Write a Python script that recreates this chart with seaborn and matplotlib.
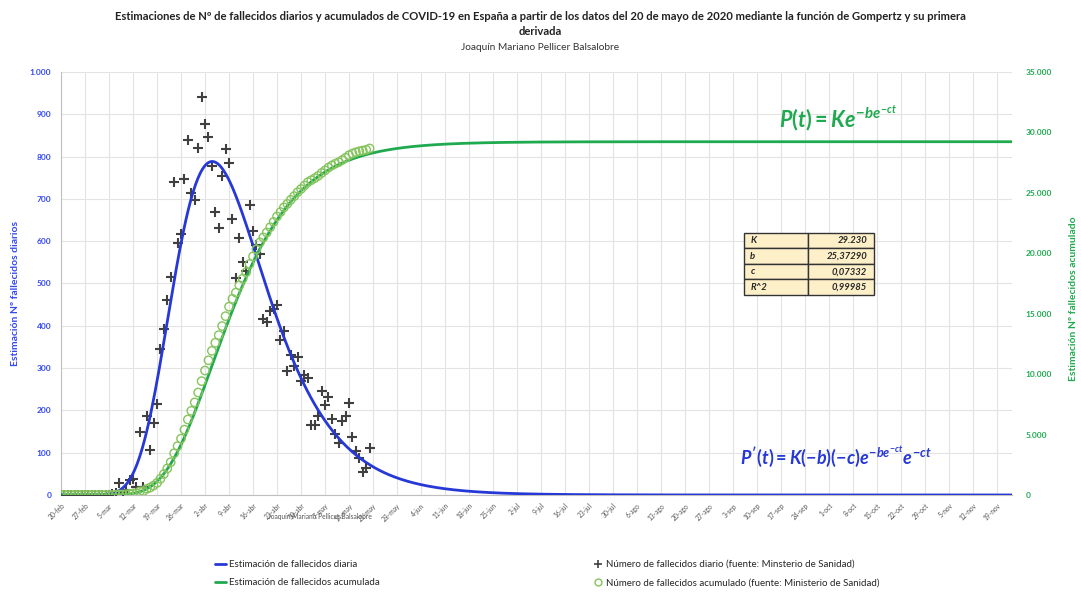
import numpy as np
import pandas as pd
import matplotlib
matplotlib.use("Agg")
import matplotlib.pyplot as plt
from matplotlib.lines import Line2D
import seaborn as sns

# Gompertz parameters (table in the chart)
K = 29230
b = 25.37290
c = 0.07332
R2 = 0.99985

# observed data, day 0 = 20-feb-2020
daily_deaths = [0, 0, 0, 0, 0, 0, 0, 0, 0, 0, 0, 0,
                1, 0, 1, 2, 5, 29, 7, 11, 36, 37, 18, 150, 20, 186, 107, 170, 215, 344,
                393, 462, 515, 739, 596, 616, 746, 840, 715, 697, 821, 942, 877, 847, 778,
                670, 630, 753, 819, 784, 652, 513, 607, 550, 530, 685, 623, 590, 569, 415,
                408, 434, 440, 450, 367, 387, 292, 332, 304, 326, 269, 284, 276, 166, 165,
                187, 245, 213, 231, 179, 145, 124, 176, 186, 217, 138, 103, 87, 55, 63, 110]
cum_deaths = [0, 0, 0, 0, 0, 0, 0, 0, 0, 0, 0, 0,
              1, 1, 2, 4, 9, 38, 45, 56, 92, 129, 147, 297, 317, 503, 610, 780, 995, 1339,
              1732, 2194, 2709, 3448, 4044, 4660, 5406, 6246, 6961, 7658, 8479, 9421, 10298,
              11145, 11923, 12593, 13223, 13976, 14795, 15579, 16231, 16744, 17351, 17901,
              18431, 19116, 19739, 20329, 20898, 21313, 21721, 22155, 22595, 23045, 23412,
              23799, 24091, 24423, 24727, 25053, 25322, 25606, 25882, 26048, 26213, 26400,
              26645, 26858, 27089, 27268, 27413, 27537, 27713, 27899, 28116, 28254, 28357,
              28444, 28499, 28562, 28672]
obs_days = list(range(len(daily_deaths)))

tick_labels = ["20-feb", "27-feb", "5-mar", "12-mar", "19-mar", "26-mar", "2-abr", "9-abr",
               "16-abr", "23-abr", "30-abr", "7-may", "14-may", "21-may", "28-may", "4-jun",
               "11-jun", "18-jun", "25-jun", "2-jul", "9-jul", "16-jul", "23-jul", "30-jul",
               "6-ago", "13-ago", "20-ago", "27-ago", "3-sep", "10-sep", "17-sep", "24-sep",
               "1-oct", "8-oct", "15-oct", "22-oct", "29-oct", "5-nov", "12-nov", "19-nov"]
tick_days = [7 * i for i in range(len(tick_labels))]
last_day = 277.3

BLUE = "#2638d6"
BLUE_TXT = "#3348f0"
GREEN = "#1faa4f"
GREEN_PT = "#86c45e"
GREY = "#404040"

sns.set_style("white")
plt.rcParams["font.family"] = ["Lato", "DejaVu Sans"]
plt.rcParams["mathtext.fontset"] = "custom"
plt.rcParams["mathtext.it"] = "Lato:italic:bold"
plt.rcParams["mathtext.rm"] = "Lato:bold"

# model curves from the fitted parameters
t = np.linspace(0, last_day, 800)
model = pd.DataFrame({"t": t})
model["P"] = K * np.exp(-b * np.exp(-c * t))
model["dP"] = K * b * c * np.exp(-c * t) * np.exp(-b * np.exp(-c * t))
obs = pd.DataFrame({"t": obs_days, "daily": daily_deaths, "cum": cum_deaths})

fig = plt.figure(figsize=(10.81, 5.92), dpi=100)
ax = fig.add_axes([0.0564, 0.1639, 0.8797, 0.7145])
ax2 = ax.twinx()

sns.scatterplot(data=obs, x="t", y="daily", ax=ax, marker="+", s=50, linewidth=1.5,
                color=GREY, zorder=3)
sns.lineplot(data=model, x="t", y="dP", ax=ax, color=BLUE, linewidth=2, zorder=4)
sns.scatterplot(data=obs, x="t", y="cum", ax=ax2, marker="o", s=36, facecolor="none",
                edgecolor=GREEN_PT, linewidth=1.0, zorder=3)
sns.lineplot(data=model, x="t", y="P", ax=ax2, color=GREEN, linewidth=2, zorder=2)

ax.set_xlim(0, last_day)
ax.set_ylim(0, 1000)
ax2.set_ylim(0, 35000)
ax.set_xlabel("")
ax.set_ylabel("")
ax2.set_ylabel("")

ax.set_xticks(tick_days)
ax.set_xticklabels(tick_labels, rotation=45, ha="right", rotation_mode="anchor",
                   fontsize=4.8, color="#555555")
ax.set_yticks(range(0, 1001, 100))
ax.set_yticklabels([f"{v:,}".replace(",", ".") for v in range(0, 1001, 100)],
                   fontsize=6, color=BLUE_TXT, fontweight="bold")
ax2.set_yticks(range(0, 35001, 5000))
ax2.set_yticklabels([f"{v:,}".replace(",", ".") for v in range(0, 35001, 5000)],
                    fontsize=6, color=GREEN, fontweight="bold")
ax.tick_params(axis="y", length=0, pad=7)
ax2.tick_params(axis="y", length=0, pad=10)
ax.tick_params(axis="x", length=3, color="#bfbfbf", pad=2)

ax.grid(True, color="#e3e3e3", linewidth=0.8)
ax.set_axisbelow(True)
for s in ["top", "right"]:
    ax.spines[s].set_visible(False)
for s in ["left", "bottom"]:
    ax.spines[s].set_color("#bfbfbf")
for s in ax2.spines.values():
    s.set_visible(False)

# titles
fig.text(0.5, 0.972, "Estimaciones de Nº de fallecidos diarios y acumulados de COVID-19 en España "
         "a partir de los datos del 20 de mayo de 2020 mediante la función de Gompertz y su primera",
         ha="center", va="center", fontsize=8.1, fontweight="bold", color="#222222")
fig.text(0.5, 0.946, "derivada", ha="center", va="center", fontsize=8.1,
         fontweight="bold", color="#222222")
fig.text(0.5, 0.92, "Joaquín Mariano Pellicer Balsalobre", ha="center", va="center",
         fontsize=7.3, color="#333333")
fig.text(0.014, 0.505, "Estimación Nº fallecidos diarios", rotation=90, ha="center",
         va="center", fontsize=7.5, fontweight="bold", color=BLUE_TXT)
fig.text(0.993, 0.495, "Estimación Nº fallecidos acumulado", rotation=90, ha="center",
         va="center", fontsize=7.5, fontweight="bold", color=GREEN)
fig.text(0.296, 0.127, "Joaquín Mariano Pellicer Balsalobre", ha="center", va="center",
         fontsize=4.8, color="#555555")

# formulas
fig.text(0.775, 0.80, r"$P(t) = Ke^{-be^{-ct}}$", ha="center", va="center",
         fontsize=15.5, color=GREEN)
fig.text(0.773, 0.228, r"$P'(t) = K(-b)(-c)e^{-be^{-ct}}e^{-ct}$", ha="center",
         va="center", fontsize=13, color=BLUE)

# parameter table
cells = [["K", f"{K:,}".replace(",", ".")],
         ["b", f"{b:.5f}".replace(".", ",")],
         ["c", f"{c:.5f}".replace(".", ",")],
         ["R^2", f"{R2:.5f}".replace(".", ",")]]
tab = ax2.table(cellText=cells, bbox=[(744 - 61) / 951, (495 - 295) / 423,
                                      (874 - 744) / 951, 62 / 423],
                cellLoc="left", colWidths=[0.49, 0.51])
tab.auto_set_font_size(False)
for (r, col), cell in tab.get_celld().items():
    cell.set_facecolor("#fdf0c9")
    cell.set_edgecolor("#333333")
    cell.set_linewidth(1.0)
    cell.get_text().set_fontsize(6.8)
    cell.get_text().set_fontstyle("italic")
    cell.get_text().set_fontweight("bold")
    if col == 1:
        cell.get_text().set_ha("right")
        cell._loc = "right"
tab.set_zorder(10)

# legend
handles = [Line2D([], [], color=BLUE, linewidth=2),
           Line2D([], [], color=GREEN, linewidth=2),
           Line2D([], [], color=GREY, marker="+", linestyle="none", markersize=6, mew=1.2),
           Line2D([], [], color=GREEN_PT, marker="o", markerfacecolor="none",
                  linestyle="none", markersize=5)]
labels = ["Estimación de fallecidos diaria", "Estimación de fallecidos acumulada",
          "Número de fallecidos diario (fuente: Minsterio de Sanidad)",
          "Número de fallecidos acumulado (fuente: Ministerio de Sanidad)"]
fig.legend(handles, labels, ncol=2, loc="center left", bbox_to_anchor=(0.194, 0.031),
           frameon=False, fontsize=7, handlelength=1.2, handletextpad=0.3,
           columnspacing=21.8, labelspacing=0.95, borderpad=0)

fig.savefig("out.png", dpi=100)
